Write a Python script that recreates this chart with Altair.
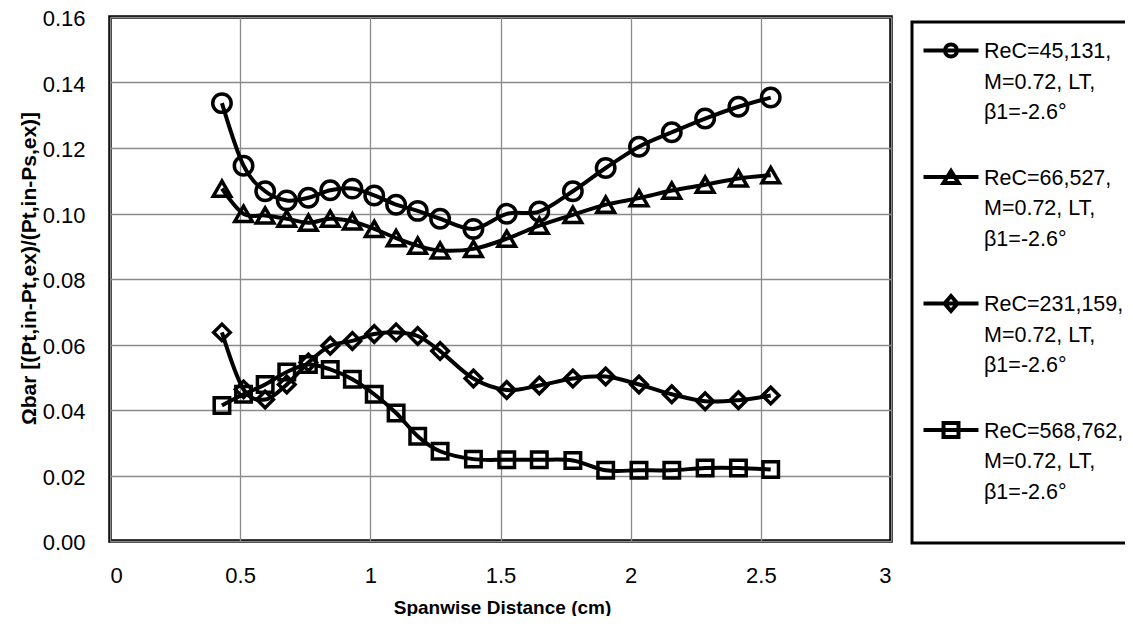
import altair as alt
import pandas as pd

FONT = "Liberation Sans, Arial, sans-serif"

# spanwise positions (cm)
x_cm = [0.43, 0.513, 0.596, 0.679, 0.762, 0.846, 0.931, 1.015, 1.099, 1.182, 1.268,
        1.396, 1.524, 1.649, 1.778, 1.904, 2.032, 2.158, 2.286, 2.414, 2.538]

series_names = [
    "ReC=45,131,|M=0.72, LT,|β1=-2.6°",
    "ReC=66,527,|M=0.72, LT,|β1=-2.6°",
    "ReC=231,159,|M=0.72, LT,|β1=-2.6°",
    "ReC=568,762,|M=0.72, LT,|β1=-2.6°",
]

omega_45131 = [0.1337, 0.1146, 0.1068, 0.1040, 0.1048, 0.1071, 0.1076, 0.1055, 0.1027, 0.1008, 0.0984,
               0.0953, 0.0999, 0.1006, 0.1068, 0.1139, 0.1204, 0.1248, 0.1290, 0.1326, 0.1354]
omega_66527 = [0.1076, 0.0999, 0.0994, 0.0984, 0.0972, 0.0984, 0.0976, 0.0953, 0.0925, 0.0902, 0.0887,
               0.0892, 0.0923, 0.0963, 0.0996, 0.1027, 0.1047, 0.1070, 0.1088, 0.1107, 0.1117]
omega_231159 = [0.0637, 0.0463, 0.0432, 0.0478, 0.0545, 0.0596, 0.0611, 0.0632, 0.0637, 0.0626, 0.0580,
                0.0496, 0.0461, 0.0475, 0.0496, 0.0502, 0.0478, 0.0448, 0.0427, 0.0430, 0.0444]
omega_568762 = [0.0414, 0.0448, 0.0478, 0.0516, 0.0539, 0.0524, 0.0494, 0.0448, 0.0391, 0.0320, 0.0274,
                0.0250, 0.0248, 0.0248, 0.0246, 0.0216, 0.0216, 0.0216, 0.0223, 0.0223, 0.0218]

x_ticks = [0, 0.5, 1, 1.5, 2, 2.5, 3]
y_ticks = [0.00, 0.02, 0.04, 0.06, 0.08, 0.10, 0.12, 0.14, 0.16]

all_vals = [omega_45131, omega_66527, omega_231159, omega_568762]
rows = []
for name, vals in zip(series_names, all_vals):
    for xv, yv in zip(x_cm, vals):
        rows.append({"x": xv, "y": yv, "series": name})
df = pd.DataFrame(rows)

# legend symbols: line through a small marker (unit coords, scaled by sqrt(size)/2)
d = 0.95
def f(v):
    return f"{v:.3f}"
leg_paths = [
    f"M-2.75,{f(d)}H2.75M-0.6,{f(d)}A0.6,0.6 0 1,1 0.6,{f(d)}A0.6,0.6 0 1,1 -0.6,{f(d)}",
    f"M-2.75,{f(d)}H2.75M0,{f(d-0.6)}L0.75,{f(d+0.6)}L-0.75,{f(d+0.6)}Z",
    f"M-2.75,{f(d)}H2.75M0,{f(d-0.75)}L0.65,{f(d)}L0,{f(d+0.75)}L-0.65,{f(d)}Z",
    f"M-2.75,{f(d)}H2.75M-0.75,{f(d-0.7)}H0.75V{f(d+0.7)}H-0.75Z",
]

x_enc = alt.X("x:Q", scale=alt.Scale(domain=[0, 3], nice=False),
              axis=alt.Axis(values=x_ticks, format="~g", title="Spanwise Distance (cm)",
                            labelPadding=34, labelBaseline="middle", titleFontSize=19,
                            titleX=392, titleY=66, titleBaseline="middle", titleAlign="center"))
y_enc = alt.Y("y:Q", scale=alt.Scale(domain=[0, 0.16], nice=False),
              axis=alt.Axis(values=y_ticks, format=".2f",
                            title="Ωbar [(Pt,in-Pt,ex)/(Pt,in-Ps,ex)]",
                            labelPadding=25, labelOffset=1.5, titleFontSize=21,
                            titleX=-81, titleY=251, titleAngle=270,
                            titleBaseline="middle", titleAlign="center"))

base = alt.Chart(df)

lines = base.mark_line(color="black", strokeWidth=4, interpolate="cardinal").encode(
    x=x_enc, y=y_enc, detail="series:N"
)

points = base.mark_point(color="black", filled=False, strokeWidth=3.5, opacity=1).encode(
    x="x:Q", y="y:Q",
    shape=alt.Shape("series:N", scale=alt.Scale(domain=series_names,
                    range=["circle", "triangle-up", "diamond", "square"]), legend=None),
    size=alt.Size("series:N", scale=alt.Scale(domain=series_names, range=[340, 240, 290, 280]),
                  legend=None),
)

legend_layer = base.mark_point(opacity=0).encode(
    x="x:Q", y="y:Q",
    shape=alt.Shape("series:N", scale=alt.Scale(domain=series_names, range=leg_paths),
                    legend=alt.Legend(
                        title=" ", titleOrient="bottom", titleFontSize=1, titlePadding=32,
                        orient="none", legendX=802, legendY=5,
                        labelExpr="split(datum.label, '|')",
                        labelBaseline="top", labelLimit=400,
                        symbolSize=400, symbolStrokeWidth=4, symbolStrokeColor="black",
                        symbolFillColor="transparent", symbolOpacity=1,
                        symbolOffset=20, labelOffset=21, rowPadding=31.5,
                        padding=7, strokeColor="black")),
)

chart = alt.layer(lines, points, legend_layer).resolve_scale(
    shape="independent"
).properties(
    width=781, height=524,
    autosize=alt.AutoSizeParams(type="none"),
    padding={"left": 102, "top": 9, "right": 234, "bottom": 75},
).configure(
    style={"guide-label": {"lineHeight": 30.5}}
).configure_view(
    stroke="black", strokeWidth=3.5
).configure_axis(
    grid=True, gridColor="#8a8a8a", gridWidth=1.3, domain=False, ticks=False, tickSize=0,
    labelFont=FONT, labelFontSize=22, labelColor="black",
    titleFont=FONT, titleFontWeight="bold", titleColor="black",
).configure_legend(
    labelFont=FONT, labelFontSize=21.5, labelColor="black", strokeWidth=3,
)

chart.save("out.html", embed_options={"renderer": "svg", "actions": False})
